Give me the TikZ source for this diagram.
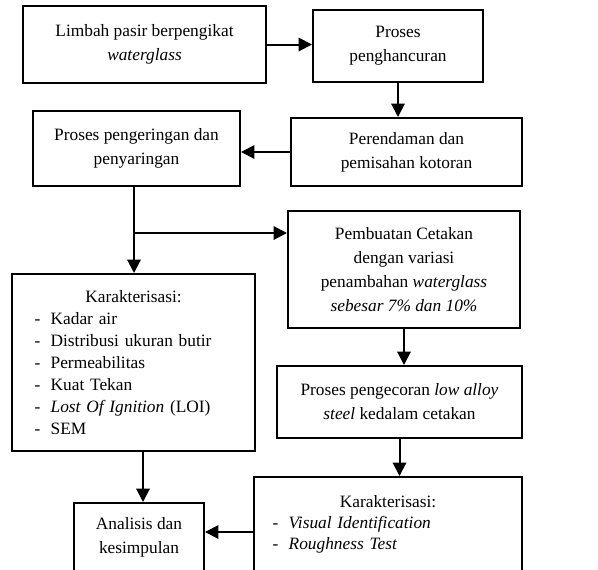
\documentclass[tikz,border=0pt]{standalone}
\usepackage{fontspec}
\setmainfont{Liberation Serif}
\usetikzlibrary{arrows.meta,positioning}

\newcommand{\butir}[2][14pt]{\hspace*{#1}\makebox[12pt][l]{-}#2\par}

\begin{document}
\begin{tikzpicture}[x=0.75pt, y=-0.75pt, >={Triangle[length=10pt,width=10pt]},
    font=\fontsize{13}{18}\selectfont,
    kotak/.style={draw, line width=1.5pt, align=center, inner sep=3pt},
    kar/.style={kotak, align=left, font=\fontsize{13}{16.5}\selectfont},
    panah/.style={->, line width=1.5pt}]
    \useasboundingbox (0,0) rectangle (598,569);
    \clip (0,0) rectangle (598,569);
    % baris atas
    \node[kotak, minimum width=182.25pt, minimum height=57.75pt] (limbah) at (144.5,44.5) {Limbah pasir berpengikat\\ \textit{waterglass}};
    \node[kotak, minimum width=127.5pt, minimum height=54pt] (hancur) at (398,46) {Proses\\ penghancuran};
    \node[kotak, minimum width=173.25pt, minimum height=51pt] (rendam) at (406.5,152) {Perendaman dan\\ pemisahan kotoran};
    \node[kotak, minimum width=155.25pt, minimum height=56.25pt] (kering) at (136.5,148.5) {Proses pengeringan dan\\ penyaringan};
    % cabang kanan
    \node[kotak, minimum width=174pt, minimum height=87.75pt] (cetak) at (404,269.5) {Pembuatan Cetakan\\ dengan variasi\\ penambahan \textit{waterglass}\\ \textit{sebesar 7\% dan 10\%}};
    \node[kotak, minimum width=183.75pt, minimum height=54pt] (cor) at (399.5,402) {Proses pengecoran \textit{low alloy}\\ \textit{steel} kedalam cetakan};
    \node[kar, text width=195pt, anchor=north, font=\fontsize{13}{15.5}\selectfont] (kar2) at (388,476) {{\centering\rule{0pt}{20pt}Karakterisasi:\par}\butir[11pt]{\textit{Visual Identification}}\butir[11pt]{\textit{Roughness Test}\rule[-60pt]{0pt}{60pt}}};
    % cabang kiri
    \node[kar, text width=176.25pt, minimum height=132.75pt] (kar1) at (133.5,362.5) {{\centering Karakterisasi:\par}\butir{Kadar air}\butir{Distribusi ukuran butir}\butir{Permeabilitas}\butir{Kuat Tekan}\butir{\textit{Lost Of Ignition} (LOI)}\butir{SEM}};
    \node[kotak, minimum width=97.5pt, minimum height=51pt] (analisis) at (139,537) {Analisis dan\\ kesimpulan};
    % panah
    \coordinate (cabang) at (134,233);
    \draw[panah] (limbah.east) -- (limbah.east -| hancur.west);
    \draw[panah] (hancur.south) -- (hancur.south |- rendam.north);
    \draw[panah] (rendam.west) -- (rendam.west -| kering.east);
    \draw[line width=1.5pt] (cabang |- kering.south) -- (cabang);
    \draw[panah] (cabang) -- (cabang |- kar1.north);
    \draw[panah] (cabang) -- (cabang -| cetak.west);
    \draw[panah] (cetak.south) -- (cetak.south |- cor.north);
    \draw[panah] (cor.south) -- (cor.south |- kar2.north);
    \draw[panah] ([xshift=3pt]analisis.north |- kar1.south) -- ([xshift=3pt]analisis.north);
    \draw[panah] (kar2.west |- 0,532) -- (analisis.east |- 0,532);
\end{tikzpicture}
\end{document}
